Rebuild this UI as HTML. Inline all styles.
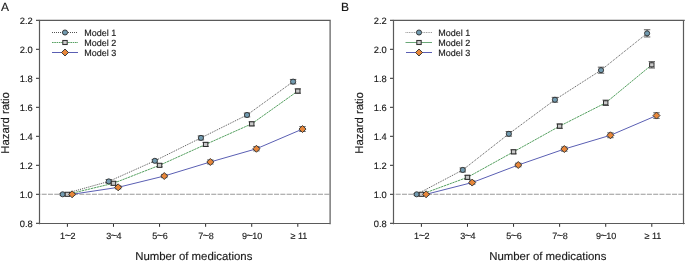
<!DOCTYPE html>
<html><head><meta charset="utf-8"><style>
html,body{margin:0;padding:0;background:#fff;}
svg{display:block;}
text{font-family:"Liberation Sans",sans-serif;fill:#1a1a1a;stroke:#1a1a1a;stroke-width:0.15px;text-rendering:geometricPrecision;}
svg{will-change:transform;}
</style></head><body>
<svg width="685" height="263" viewBox="0 0 685 263">
<text x="1.0" y="11" font-size="12">A</text>
<line x1="39.5" y1="194.30" x2="330.5" y2="194.30" stroke="#999999" stroke-width="1.05" stroke-dasharray="5,1.28" stroke-dashoffset="4.08"/>
<line x1="36" y1="223.30" x2="39.5" y2="223.30" stroke="#2a2a2a" stroke-width="1"/>
<text x="32.7" y="226.55" font-size="9.3" text-anchor="end">0.8</text>
<line x1="36" y1="194.30" x2="39.5" y2="194.30" stroke="#2a2a2a" stroke-width="1"/>
<text x="32.7" y="197.55" font-size="9.3" text-anchor="end">1.0</text>
<line x1="36" y1="165.30" x2="39.5" y2="165.30" stroke="#2a2a2a" stroke-width="1"/>
<text x="32.7" y="168.55" font-size="9.3" text-anchor="end">1.2</text>
<line x1="36" y1="136.30" x2="39.5" y2="136.30" stroke="#2a2a2a" stroke-width="1"/>
<text x="32.7" y="139.55" font-size="9.3" text-anchor="end">1.4</text>
<line x1="36" y1="107.30" x2="39.5" y2="107.30" stroke="#2a2a2a" stroke-width="1"/>
<text x="32.7" y="110.55" font-size="9.3" text-anchor="end">1.6</text>
<line x1="36" y1="78.30" x2="39.5" y2="78.30" stroke="#2a2a2a" stroke-width="1"/>
<text x="32.7" y="81.55" font-size="9.3" text-anchor="end">1.8</text>
<line x1="36" y1="49.30" x2="39.5" y2="49.30" stroke="#2a2a2a" stroke-width="1"/>
<text x="32.7" y="52.55" font-size="9.3" text-anchor="end">2.0</text>
<line x1="36" y1="20.30" x2="39.5" y2="20.30" stroke="#2a2a2a" stroke-width="1"/>
<text x="32.7" y="23.55" font-size="9.3" text-anchor="end">2.2</text>
<line x1="67.40" y1="223.5" x2="67.40" y2="226.8" stroke="#2a2a2a" stroke-width="1"/>
<text x="67.80" y="238.6" font-size="9" text-anchor="middle">1<tspan font-size="11" dx="-0.5" dy="0.3">~</tspan><tspan dx="-0.6" dy="-0.3">2</tspan></text>
<line x1="113.48" y1="223.5" x2="113.48" y2="226.8" stroke="#2a2a2a" stroke-width="1"/>
<text x="113.88" y="238.6" font-size="9" text-anchor="middle">3<tspan font-size="11" dx="-0.5" dy="0.3">~</tspan><tspan dx="-0.6" dy="-0.3">4</tspan></text>
<line x1="159.56" y1="223.5" x2="159.56" y2="226.8" stroke="#2a2a2a" stroke-width="1"/>
<text x="159.96" y="238.6" font-size="9" text-anchor="middle">5<tspan font-size="11" dx="-0.5" dy="0.3">~</tspan><tspan dx="-0.6" dy="-0.3">6</tspan></text>
<line x1="205.64" y1="223.5" x2="205.64" y2="226.8" stroke="#2a2a2a" stroke-width="1"/>
<text x="206.04" y="238.6" font-size="9" text-anchor="middle">7<tspan font-size="11" dx="-0.5" dy="0.3">~</tspan><tspan dx="-0.6" dy="-0.3">8</tspan></text>
<line x1="251.72" y1="223.5" x2="251.72" y2="226.8" stroke="#2a2a2a" stroke-width="1"/>
<text x="252.12" y="238.6" font-size="9" text-anchor="middle">9<tspan font-size="11" dx="-0.5" dy="0.3">~</tspan><tspan dx="-0.6" dy="-0.3">10</tspan></text>
<line x1="297.80" y1="223.5" x2="297.80" y2="226.8" stroke="#2a2a2a" stroke-width="1"/>
<text x="299.00" y="238.6" font-size="9" text-anchor="middle">≥ 11</text>
<text x="193.8" y="259.8" font-size="11.4" text-anchor="middle">Number of medications</text>
<text transform="translate(9.4,122.9) rotate(-90)" font-size="11.3" text-anchor="middle">Hazard ratio</text>
<polyline points="62.70,194.30 108.78,181.40 154.86,160.81 200.94,137.90 247.02,114.99 293.10,81.64" fill="none" stroke="#404040" stroke-width="0.9" stroke-dasharray="1,1"/>
<polyline points="67.40,194.30 113.48,183.28 159.56,165.30 205.64,144.42 251.72,123.83 297.80,91.06" fill="none" stroke="#55a060" stroke-width="1" stroke-dasharray="2.4,0.6"/>
<polyline points="72.10,194.30 118.18,187.34 164.26,176.03 210.34,161.97 256.42,148.77 302.50,129.05" fill="none" stroke="#5a5fb3" stroke-width="1"/>
<path d="M62.70 193.50V195.10M59.50 193.50H65.90M59.50 195.10H65.90" stroke="#4a4a4a" stroke-width="0.9" fill="none"/>
<path d="M108.78 179.59V183.20M105.58 179.59H111.98M105.58 183.20H111.98" stroke="#4a4a4a" stroke-width="0.9" fill="none"/>
<path d="M154.86 159.41V162.21M151.66 159.41H158.06M151.66 162.21H158.06" stroke="#4a4a4a" stroke-width="0.9" fill="none"/>
<path d="M200.94 135.90V139.90M197.74 135.90H204.14M197.74 139.90H204.14" stroke="#4a4a4a" stroke-width="0.9" fill="none"/>
<path d="M247.02 113.09V116.89M243.82 113.09H250.22M243.82 116.89H250.22" stroke="#4a4a4a" stroke-width="0.9" fill="none"/>
<path d="M293.10 79.44V83.84M289.90 79.44H296.30M289.90 83.84H296.30" stroke="#4a4a4a" stroke-width="0.9" fill="none"/>
<path d="M67.40 193.50V195.10M64.20 193.50H70.60M64.20 195.10H70.60" stroke="#4a4a4a" stroke-width="0.9" fill="none"/>
<path d="M113.48 181.48V185.08M110.28 181.48H116.68M110.28 185.08H116.68" stroke="#4a4a4a" stroke-width="0.9" fill="none"/>
<path d="M159.56 163.70V166.90M156.36 163.70H162.76M156.36 166.90H162.76" stroke="#4a4a4a" stroke-width="0.9" fill="none"/>
<path d="M205.64 142.42V146.42M202.44 142.42H208.84M202.44 146.42H208.84" stroke="#4a4a4a" stroke-width="0.9" fill="none"/>
<path d="M251.72 121.83V125.83M248.52 121.83H254.92M248.52 125.83H254.92" stroke="#4a4a4a" stroke-width="0.9" fill="none"/>
<path d="M297.80 88.86V93.26M294.60 88.86H301.00M294.60 93.26H301.00" stroke="#4a4a4a" stroke-width="0.9" fill="none"/>
<path d="M72.10 193.50V195.10M68.90 193.50H75.30M68.90 195.10H75.30" stroke="#4a4a4a" stroke-width="0.9" fill="none"/>
<path d="M118.18 185.84V188.84M114.98 185.84H121.38M114.98 188.84H121.38" stroke="#4a4a4a" stroke-width="0.9" fill="none"/>
<path d="M164.26 174.43V177.63M161.06 174.43H167.46M161.06 177.63H167.46" stroke="#4a4a4a" stroke-width="0.9" fill="none"/>
<path d="M210.34 159.97V163.97M207.14 159.97H213.54M207.14 163.97H213.54" stroke="#4a4a4a" stroke-width="0.9" fill="none"/>
<path d="M256.42 146.67V150.87M253.22 146.67H259.62M253.22 150.87H259.62" stroke="#4a4a4a" stroke-width="0.9" fill="none"/>
<path d="M302.50 126.65V131.45M299.30 126.65H305.70M299.30 131.45H305.70" stroke="#4a4a4a" stroke-width="0.9" fill="none"/>
<ellipse cx="62.70" cy="194.30" rx="2.6" ry="2.55" fill="#729bb0" stroke="#2e2e2e" stroke-width="0.9"/>
<ellipse cx="108.78" cy="181.40" rx="2.6" ry="2.55" fill="#729bb0" stroke="#2e2e2e" stroke-width="0.9"/>
<ellipse cx="154.86" cy="160.81" rx="2.6" ry="2.55" fill="#729bb0" stroke="#2e2e2e" stroke-width="0.9"/>
<ellipse cx="200.94" cy="137.90" rx="2.6" ry="2.55" fill="#729bb0" stroke="#2e2e2e" stroke-width="0.9"/>
<ellipse cx="247.02" cy="114.99" rx="2.6" ry="2.55" fill="#729bb0" stroke="#2e2e2e" stroke-width="0.9"/>
<ellipse cx="293.10" cy="81.64" rx="2.6" ry="2.55" fill="#729bb0" stroke="#2e2e2e" stroke-width="0.9"/>
<rect x="65.20" y="192.25" width="4.4" height="4.1" fill="#c9c9c9" stroke="#2e2e2e" stroke-width="1"/>
<rect x="111.28" y="181.23" width="4.4" height="4.1" fill="#c9c9c9" stroke="#2e2e2e" stroke-width="1"/>
<rect x="157.36" y="163.25" width="4.4" height="4.1" fill="#c9c9c9" stroke="#2e2e2e" stroke-width="1"/>
<rect x="203.44" y="142.37" width="4.4" height="4.1" fill="#c9c9c9" stroke="#2e2e2e" stroke-width="1"/>
<rect x="249.52" y="121.78" width="4.4" height="4.1" fill="#c9c9c9" stroke="#2e2e2e" stroke-width="1"/>
<rect x="295.60" y="89.01" width="4.4" height="4.1" fill="#c9c9c9" stroke="#2e2e2e" stroke-width="1"/>
<path d="M72.10 190.80L75.60 194.30L72.10 197.80L68.60 194.30Z" fill="#e8873a" stroke="#2e2e2e" stroke-width="0.9"/>
<path d="M118.18 183.84L121.68 187.34L118.18 190.84L114.68 187.34Z" fill="#e8873a" stroke="#2e2e2e" stroke-width="0.9"/>
<path d="M164.26 172.53L167.76 176.03L164.26 179.53L160.76 176.03Z" fill="#e8873a" stroke="#2e2e2e" stroke-width="0.9"/>
<path d="M210.34 158.47L213.84 161.97L210.34 165.47L206.84 161.97Z" fill="#e8873a" stroke="#2e2e2e" stroke-width="0.9"/>
<path d="M256.42 145.27L259.92 148.77L256.42 152.27L252.92 148.77Z" fill="#e8873a" stroke="#2e2e2e" stroke-width="0.9"/>
<path d="M302.50 125.55L306.00 129.05L302.50 132.55L299.00 129.05Z" fill="#e8873a" stroke="#2e2e2e" stroke-width="0.9"/>
<path d="M39.5 19.75V224.15M330.1 19.75V224.15M38.75 20.4H330.75M38.75 223.5H330.75" fill="none" stroke="#5a5a5a" stroke-width="1.2"/>
<line x1="52" y1="32.5" x2="78" y2="32.5" stroke="#404040" stroke-width="0.9" stroke-dasharray="1,1"/>
<ellipse cx="65.00" cy="32.50" rx="2.6" ry="2.55" fill="#729bb0" stroke="#2e2e2e" stroke-width="0.9"/>
<text x="84.2" y="35.8" font-size="9">Model 1</text>
<line x1="52" y1="42.5" x2="78" y2="42.5" stroke="#55a060" stroke-width="1" stroke-dasharray="1.6,0.7"/>
<rect x="62.80" y="40.45" width="4.4" height="4.1" fill="#c9c9c9" stroke="#2e2e2e" stroke-width="1"/>
<text x="84.2" y="45.8" font-size="9">Model 2</text>
<line x1="52" y1="52.5" x2="78" y2="52.5" stroke="#5a5fb3" stroke-width="1"/>
<path d="M65.00 49.00L68.50 52.50L65.00 56.00L61.50 52.50Z" fill="#e8873a" stroke="#2e2e2e" stroke-width="0.9"/>
<text x="84.2" y="55.8" font-size="9">Model 3</text>
<text x="341.0" y="11" font-size="12">B</text>
<line x1="393.5" y1="194.30" x2="684.5" y2="194.30" stroke="#999999" stroke-width="1.05" stroke-dasharray="5,1.28" stroke-dashoffset="4.08"/>
<line x1="390" y1="223.30" x2="393.5" y2="223.30" stroke="#2a2a2a" stroke-width="1"/>
<text x="386.7" y="226.55" font-size="9.3" text-anchor="end">0.8</text>
<line x1="390" y1="194.30" x2="393.5" y2="194.30" stroke="#2a2a2a" stroke-width="1"/>
<text x="386.7" y="197.55" font-size="9.3" text-anchor="end">1.0</text>
<line x1="390" y1="165.30" x2="393.5" y2="165.30" stroke="#2a2a2a" stroke-width="1"/>
<text x="386.7" y="168.55" font-size="9.3" text-anchor="end">1.2</text>
<line x1="390" y1="136.30" x2="393.5" y2="136.30" stroke="#2a2a2a" stroke-width="1"/>
<text x="386.7" y="139.55" font-size="9.3" text-anchor="end">1.4</text>
<line x1="390" y1="107.30" x2="393.5" y2="107.30" stroke="#2a2a2a" stroke-width="1"/>
<text x="386.7" y="110.55" font-size="9.3" text-anchor="end">1.6</text>
<line x1="390" y1="78.30" x2="393.5" y2="78.30" stroke="#2a2a2a" stroke-width="1"/>
<text x="386.7" y="81.55" font-size="9.3" text-anchor="end">1.8</text>
<line x1="390" y1="49.30" x2="393.5" y2="49.30" stroke="#2a2a2a" stroke-width="1"/>
<text x="386.7" y="52.55" font-size="9.3" text-anchor="end">2.0</text>
<line x1="390" y1="20.30" x2="393.5" y2="20.30" stroke="#2a2a2a" stroke-width="1"/>
<text x="386.7" y="23.55" font-size="9.3" text-anchor="end">2.2</text>
<line x1="421.40" y1="223.5" x2="421.40" y2="226.8" stroke="#2a2a2a" stroke-width="1"/>
<text x="421.80" y="238.6" font-size="9" text-anchor="middle">1<tspan font-size="11" dx="-0.5" dy="0.3">~</tspan><tspan dx="-0.6" dy="-0.3">2</tspan></text>
<line x1="467.48" y1="223.5" x2="467.48" y2="226.8" stroke="#2a2a2a" stroke-width="1"/>
<text x="467.88" y="238.6" font-size="9" text-anchor="middle">3<tspan font-size="11" dx="-0.5" dy="0.3">~</tspan><tspan dx="-0.6" dy="-0.3">4</tspan></text>
<line x1="513.56" y1="223.5" x2="513.56" y2="226.8" stroke="#2a2a2a" stroke-width="1"/>
<text x="513.96" y="238.6" font-size="9" text-anchor="middle">5<tspan font-size="11" dx="-0.5" dy="0.3">~</tspan><tspan dx="-0.6" dy="-0.3">6</tspan></text>
<line x1="559.64" y1="223.5" x2="559.64" y2="226.8" stroke="#2a2a2a" stroke-width="1"/>
<text x="560.04" y="238.6" font-size="9" text-anchor="middle">7<tspan font-size="11" dx="-0.5" dy="0.3">~</tspan><tspan dx="-0.6" dy="-0.3">8</tspan></text>
<line x1="605.72" y1="223.5" x2="605.72" y2="226.8" stroke="#2a2a2a" stroke-width="1"/>
<text x="606.12" y="238.6" font-size="9" text-anchor="middle">9<tspan font-size="11" dx="-0.5" dy="0.3">~</tspan><tspan dx="-0.6" dy="-0.3">10</tspan></text>
<line x1="651.80" y1="223.5" x2="651.80" y2="226.8" stroke="#2a2a2a" stroke-width="1"/>
<text x="653.00" y="238.6" font-size="9" text-anchor="middle">≥ 11</text>
<text x="547.8" y="259.8" font-size="11.4" text-anchor="middle">Number of medications</text>
<text transform="translate(362.9,122.9) rotate(-90)" font-size="11.3" text-anchor="middle">Hazard ratio</text>
<polyline points="416.70,194.30 462.78,169.94 508.86,133.84 554.94,99.76 601.02,70.18 647.10,33.35" fill="none" stroke="#404040" stroke-width="0.9" stroke-dasharray="1,1"/>
<polyline points="421.40,194.30 467.48,177.34 513.56,151.82 559.64,126.15 605.72,102.81 651.80,64.81" fill="none" stroke="#55a060" stroke-width="1" stroke-dasharray="2.4,0.6"/>
<polyline points="426.10,194.30 472.18,182.56 518.26,165.01 564.34,149.06 610.42,135.29 656.50,115.57" fill="none" stroke="#5a5fb3" stroke-width="1"/>
<path d="M416.70 193.50V195.10M413.50 193.50H419.90M413.50 195.10H419.90" stroke="#4a4a4a" stroke-width="0.9" fill="none"/>
<path d="M462.78 167.94V171.94M459.58 167.94H465.98M459.58 171.94H465.98" stroke="#4a4a4a" stroke-width="0.9" fill="none"/>
<path d="M508.86 131.53V136.14M505.66 131.53H512.06M505.66 136.14H512.06" stroke="#4a4a4a" stroke-width="0.9" fill="none"/>
<path d="M554.94 97.36V102.16M551.74 97.36H558.14M551.74 102.16H558.14" stroke="#4a4a4a" stroke-width="0.9" fill="none"/>
<path d="M601.02 67.18V73.18M597.82 67.18H604.22M597.82 73.18H604.22" stroke="#4a4a4a" stroke-width="0.9" fill="none"/>
<path d="M647.10 29.75V36.95M643.90 29.75H650.30M643.90 36.95H650.30" stroke="#4a4a4a" stroke-width="0.9" fill="none"/>
<path d="M421.40 193.50V195.10M418.20 193.50H424.60M418.20 195.10H424.60" stroke="#4a4a4a" stroke-width="0.9" fill="none"/>
<path d="M467.48 175.34V179.34M464.28 175.34H470.68M464.28 179.34H470.68" stroke="#4a4a4a" stroke-width="0.9" fill="none"/>
<path d="M513.56 149.82V153.82M510.36 149.82H516.76M510.36 153.82H516.76" stroke="#4a4a4a" stroke-width="0.9" fill="none"/>
<path d="M559.64 123.95V128.35M556.44 123.95H562.84M556.44 128.35H562.84" stroke="#4a4a4a" stroke-width="0.9" fill="none"/>
<path d="M605.72 100.11V105.51M602.52 100.11H608.92M602.52 105.51H608.92" stroke="#4a4a4a" stroke-width="0.9" fill="none"/>
<path d="M651.80 61.61V68.02M648.60 61.61H655.00M648.60 68.02H655.00" stroke="#4a4a4a" stroke-width="0.9" fill="none"/>
<path d="M426.10 193.50V195.10M422.90 193.50H429.30M422.90 195.10H429.30" stroke="#4a4a4a" stroke-width="0.9" fill="none"/>
<path d="M472.18 180.96V184.16M468.98 180.96H475.38M468.98 184.16H475.38" stroke="#4a4a4a" stroke-width="0.9" fill="none"/>
<path d="M518.26 163.21V166.81M515.06 163.21H521.46M515.06 166.81H521.46" stroke="#4a4a4a" stroke-width="0.9" fill="none"/>
<path d="M564.34 146.96V151.16M561.14 146.96H567.54M561.14 151.16H567.54" stroke="#4a4a4a" stroke-width="0.9" fill="none"/>
<path d="M610.42 132.89V137.69M607.22 132.89H613.62M607.22 137.69H613.62" stroke="#4a4a4a" stroke-width="0.9" fill="none"/>
<path d="M656.50 112.77V118.37M653.30 112.77H659.70M653.30 118.37H659.70" stroke="#4a4a4a" stroke-width="0.9" fill="none"/>
<ellipse cx="416.70" cy="194.30" rx="2.6" ry="2.55" fill="#729bb0" stroke="#2e2e2e" stroke-width="0.9"/>
<ellipse cx="462.78" cy="169.94" rx="2.6" ry="2.55" fill="#729bb0" stroke="#2e2e2e" stroke-width="0.9"/>
<ellipse cx="508.86" cy="133.84" rx="2.6" ry="2.55" fill="#729bb0" stroke="#2e2e2e" stroke-width="0.9"/>
<ellipse cx="554.94" cy="99.76" rx="2.6" ry="2.55" fill="#729bb0" stroke="#2e2e2e" stroke-width="0.9"/>
<ellipse cx="601.02" cy="70.18" rx="2.6" ry="2.55" fill="#729bb0" stroke="#2e2e2e" stroke-width="0.9"/>
<ellipse cx="647.10" cy="33.35" rx="2.6" ry="2.55" fill="#729bb0" stroke="#2e2e2e" stroke-width="0.9"/>
<rect x="419.20" y="192.25" width="4.4" height="4.1" fill="#c9c9c9" stroke="#2e2e2e" stroke-width="1"/>
<rect x="465.28" y="175.28" width="4.4" height="4.1" fill="#c9c9c9" stroke="#2e2e2e" stroke-width="1"/>
<rect x="511.36" y="149.77" width="4.4" height="4.1" fill="#c9c9c9" stroke="#2e2e2e" stroke-width="1"/>
<rect x="557.44" y="124.10" width="4.4" height="4.1" fill="#c9c9c9" stroke="#2e2e2e" stroke-width="1"/>
<rect x="603.52" y="100.76" width="4.4" height="4.1" fill="#c9c9c9" stroke="#2e2e2e" stroke-width="1"/>
<rect x="649.60" y="62.77" width="4.4" height="4.1" fill="#c9c9c9" stroke="#2e2e2e" stroke-width="1"/>
<path d="M426.10 190.80L429.60 194.30L426.10 197.80L422.60 194.30Z" fill="#e8873a" stroke="#2e2e2e" stroke-width="0.9"/>
<path d="M472.18 179.06L475.68 182.56L472.18 186.06L468.68 182.56Z" fill="#e8873a" stroke="#2e2e2e" stroke-width="0.9"/>
<path d="M518.26 161.51L521.76 165.01L518.26 168.51L514.76 165.01Z" fill="#e8873a" stroke="#2e2e2e" stroke-width="0.9"/>
<path d="M564.34 145.56L567.84 149.06L564.34 152.56L560.84 149.06Z" fill="#e8873a" stroke="#2e2e2e" stroke-width="0.9"/>
<path d="M610.42 131.79L613.92 135.29L610.42 138.79L606.92 135.29Z" fill="#e8873a" stroke="#2e2e2e" stroke-width="0.9"/>
<path d="M656.50 112.07L660.00 115.57L656.50 119.07L653.00 115.57Z" fill="#e8873a" stroke="#2e2e2e" stroke-width="0.9"/>
<path d="M393.5 19.75V224.15M683.5 19.75V224.15M392.75 20.4H684.75M392.75 223.5H684.75" fill="none" stroke="#5a5a5a" stroke-width="1.2"/>
<line x1="405.5" y1="32.5" x2="432" y2="32.5" stroke="#9a9a9a" stroke-width="1" stroke-dasharray="1,0.7"/>
<ellipse cx="419.00" cy="32.50" rx="2.6" ry="2.55" fill="#729bb0" stroke="#2e2e2e" stroke-width="0.9"/>
<text x="438.2" y="35.8" font-size="9">Model 1</text>
<line x1="405.5" y1="42.5" x2="432" y2="42.5" stroke="#6aa878" stroke-width="1"/>
<rect x="416.80" y="40.45" width="4.4" height="4.1" fill="#c9c9c9" stroke="#2e2e2e" stroke-width="1"/>
<text x="438.2" y="45.8" font-size="9">Model 2</text>
<line x1="406" y1="52.5" x2="432" y2="52.5" stroke="#5a5fb3" stroke-width="1"/>
<path d="M419.00 49.00L422.50 52.50L419.00 56.00L415.50 52.50Z" fill="#e8873a" stroke="#2e2e2e" stroke-width="0.9"/>
<text x="438.2" y="55.8" font-size="9">Model 3</text>
</svg></body></html>
